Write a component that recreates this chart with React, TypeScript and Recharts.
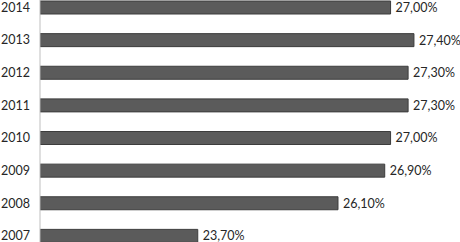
import { BarChart, Bar, XAxis, YAxis, LabelList } from 'recharts';

const years = ['2014', '2013', '2012', '2011', '2010', '2009', '2008', '2007'];
const shares = [27.0, 27.4, 27.3, 27.3, 27.0, 26.9, 26.1, 23.7];

const chartData = years.map((year, i) => ({ year, share: shares[i] }));

const fmt = (v: number) => v.toFixed(2).replace('.', ',') + '%';

export default function App() {
  return (
    <div style={{ position: 'absolute', left: 0, top: -9.5, width: 460, height: 261, fontFamily: 'Lato, sans-serif' }}>
      <BarChart
        width={460}
        height={261}
        data={chartData}
        layout="vertical"
        margin={{ top: 0, right: 11, bottom: 0, left: 0 }}
      >
        <XAxis type="number" domain={[21, 28]} hide allowDataOverflow />
        <YAxis
          type="category"
          dataKey="year"
          width={40}
          axisLine={{ stroke: '#bfbfbf' }}
          tickLine={false}
          tickMargin={4}
          tick={{ fill: '#262626', fontSize: 12.5 }}
        />
        <Bar dataKey="share" fill="#5b5b5b" stroke="#3c3c3c" strokeWidth={1} barSize={13} isAnimationActive={false}>
          <LabelList dataKey="share" position="right" offset={5} formatter={fmt} fill="#262626" fontSize={12.5} />
        </Bar>
      </BarChart>
    </div>
  );
}
